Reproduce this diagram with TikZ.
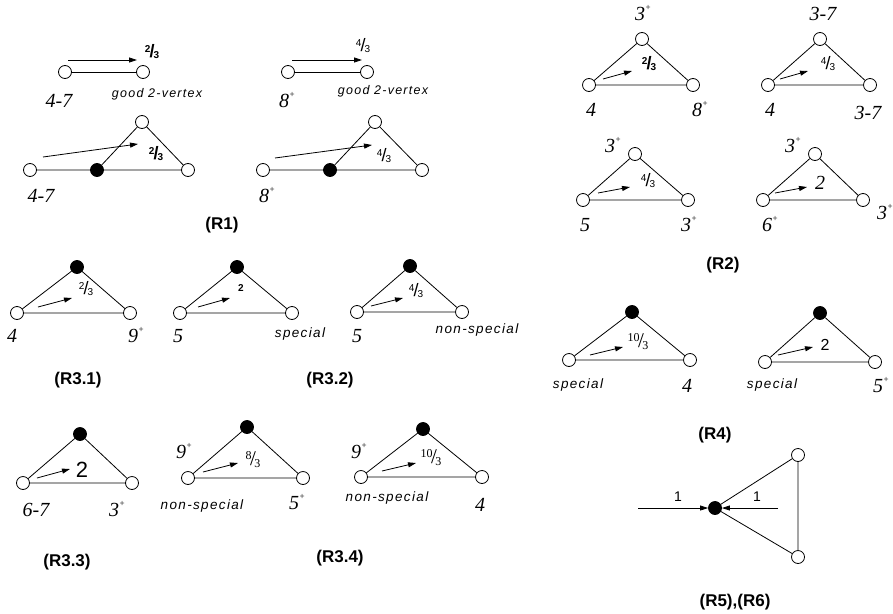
\documentclass[tikz,border=0pt]{standalone}
\usepackage{fontspec}
\setmainfont{Liberation Serif}
\setsansfont{Liberation Sans}
\newfontfamily\spacedsans[LetterSpace=10]{Liberation Sans}
\usetikzlibrary{arrows.meta}
\newcommand{\fz}[1]{\fontsize{#1}{#1}\selectfont}
% fraction: numerator raised, big slash, denominator lowered
\newcommand{\frc}[2]{\raisebox{5.5pt}{\fz{10}#1}\kern-1pt{\fz{18}/}\kern-1pt\raisebox{-1pt}{\fz{10}#2}}
\newcommand{\frcs}[2]{\raisebox{6pt}{\fz{12}#1}\kern-1.5pt{\fz{21}/}\kern-1.5pt\raisebox{-2pt}{\fz{12}#2}}
\newcommand{\pl}{\kern0.5pt\raisebox{10pt}{\fz{9}\upshape +}}
\begin{document}
\begin{tikzpicture}[x=1pt,y=-1pt,
  wv/.style={circle,draw,fill=white,minimum size=13pt,inner sep=0pt,line width=0.8pt},
  bv/.style={circle,draw,fill=black,minimum size=13pt,inner sep=0pt,line width=0.8pt},
  edge/.style={line width=0.8pt},
  arr/.style={line width=0.8pt,-{Triangle[length=8pt,width=5pt]}},
  deg/.style={font=\fz{20}\itshape,inner sep=0pt},
  note/.style={font=\fz{13.5}\spacedsans\itshape,inner sep=0pt},
  goodnote/.style={font=\fz{12.5}\spacedsans\itshape,inner sep=0pt},
  ttl/.style={font=\fz{17}\sffamily\bfseries,inner sep=0pt},
  fsb/.style={font=\sffamily\bfseries,inner sep=0pt},
  fs/.style={font=\sffamily,inner sep=0pt},
  fr/.style={font=\rmfamily,inner sep=0pt}]
\useasboundingbox (0,0) rectangle (893,613);

% ---------------- R1 ----------------
\node[wv] (a1) at (65,72) {};
\node[wv] (a2) at (143,72) {};
\draw[edge] (a1) -- (a2);
\draw[arr] (68,60) -- (137,60);
\node[fsb] (a3) at (152,52) {\frc{2}{3}};
\node[deg] (a4) at (59,101) {4-7};
\node[goodnote] (a5) at (157,94) {good 2-vertex};

\node[wv] (b1) at (288,72) {};
\node[wv] (b2) at (367,72) {};
\draw[edge] (b1) -- (b2);
\draw[arr] (292,60) -- (362,60);
\node[fs] (b3) at (363,46) {\frc{4}{3}};
\node[deg] (b4) at (287,100) {8\pl};
\node[goodnote] (b5) at (383,91) {good 2-vertex};

\node[wv] (c1) at (30,170) {};
\node[bv] (c2) at (97,170) {};
\node[wv] (c3) at (188,170) {};
\node[wv] (c4) at (142,122) {};
\draw[edge] (c1) -- (c2) -- (c3) -- (c4) -- (c2);
\draw[arr] (43,157) -- (138,144);
\node[fsb] (c5) at (156,154) {\frc{2}{3}};
\node[deg] (c6) at (41,196) {4-7};

\node[wv] (d1) at (263,170) {};
\node[bv] (d2) at (330,170) {};
\node[wv] (d3) at (422,170) {};
\node[wv] (d4) at (375,122) {};
\draw[edge] (d1) -- (d2) -- (d3) -- (d4) -- (d2);
\draw[arr] (275,158) -- (372,145);
\node[fs] (d5) at (384,156) {\frc{4}{3}};
\node[deg] (d6) at (267,195) {8\pl};

\node[ttl] (t1) at (222,225) {(R1)};

% ---------------- R3.1 ----------------
\node[bv] (e1) at (77,267) {};
\node[wv] (e2) at (17,313) {};
\node[wv] (e3) at (130,313) {};
\draw[edge] (e2) -- (e1) -- (e3) -- (e2);
\draw[arr] (38,307) -- (72,298);
\node[fs] (e4) at (86,289) {\frc{2}{3}};
\node[deg] (e5) at (12,336) {4};
\node[deg] (e6) at (136,335) {9\pl};
\node[ttl] (t31) at (78,380) {(R3.1)};

% ---------------- R3.2 ----------------
\node[bv] (f1) at (237,267) {};
\node[wv] (f2) at (180,313) {};
\node[wv] (f3) at (292,313) {};
\draw[edge] (f2) -- (f1) -- (f3) -- (f2);
\draw[arr] (198,307) -- (230,298);
\node[fsb,font=\fz{10}\sffamily\bfseries] (f4) at (241,288) {2};
\node[deg] (f5) at (178,336) {5};
\node[note] (f6) at (300,334) {special};

\node[bv] (g1) at (410,266) {};
\node[wv] (g2) at (357,312) {};
\node[wv] (g3) at (462,312) {};
\draw[edge] (g2) -- (g1) -- (g3) -- (g2);
\draw[arr] (371,306) -- (403,298);
\node[fs] (g4) at (416,291) {\frc{4}{3}};
\node[deg] (g5) at (357,336) {5};
\node[note] (g6) at (477,330) {non-special};
\node[ttl] (t32) at (330,380) {(R3.2)};

% ---------------- R3.3 ----------------
\node[bv] (h1) at (80,434) {};
\node[wv] (h2) at (23,483) {};
\node[wv] (h3) at (132,483) {};
\draw[edge] (h2) -- (h1) -- (h3) -- (h2);
\draw[arr] (37,478) -- (70,469);
\node[fs,font=\fz{22}\sffamily] (h4) at (82,470) {2};
\node[deg] (h5) at (36,510) {6-7};
\node[deg] (h6) at (117,509) {3\pl};
\node[ttl] (t33) at (67,562) {(R3.3)};

% ---------------- R3.4 ----------------
\node[bv] (i1) at (247,427) {};
\node[wv] (i2) at (188,478) {};
\node[wv] (i3) at (303,478) {};
\draw[edge] (i2) -- (i1) -- (i3) -- (i2);
\draw[arr] (203,472) -- (238,463);
\node[fr] (i4) at (253,460) {\frcs{8}{3}};
\node[deg] (i5) at (184,451) {9\pl};
\node[note] (i6) at (202,506) {non-special};
\node[deg] (i7) at (297,502) {5\pl};

\node[bv] (j1) at (423,429) {};
\node[wv] (j2) at (361,477) {};
\node[wv] (j3) at (482,477) {};
\draw[edge] (j2) -- (j1) -- (j3) -- (j2);
\draw[arr] (382,471) -- (416,463);
\node[fr] (j4) at (431,458) {\frcs{10}{3}};
\node[deg] (j5) at (359,451) {9\pl};
\node[note] (j6) at (387,498) {non-special};
\node[deg] (j7) at (480,505) {4};
\node[ttl] (t34) at (340,558) {(R3.4)};

% ---------------- R2 ----------------
\node[wv] (k1) at (642,39) {};
\node[wv] (k2) at (589,85) {};
\node[wv] (k3) at (693,85) {};
\draw[edge] (k2) -- (k1) -- (k3) -- (k2);
\draw[arr] (603,79) -- (632,71);
\node[fsb] (k4) at (649,64) {\frc{2}{3}};
\node[deg] (k5) at (643,13) {3\pl};
\node[deg] (k6) at (591,110) {4};
\node[deg] (k7) at (700,109) {8\pl};

\node[wv] (l1) at (820,39) {};
\node[wv] (l2) at (768,85) {};
\node[wv] (l3) at (870,85) {};
\draw[edge] (l2) -- (l1) -- (l3) -- (l2);
\draw[arr] (780,79) -- (808,71);
\node[fs] (l4) at (828,64) {\frc{4}{3}};
\node[deg] (l5) at (823,14) {3-7};
\node[deg] (l6) at (770,110) {4};
\node[deg] (l7) at (868,113) {3-7};

\node[wv] (m1) at (635,154) {};
\node[wv] (m2) at (583,200) {};
\node[wv] (m3) at (688,200) {};
\draw[edge] (m2) -- (m1) -- (m3) -- (m2);
\draw[arr] (598,193) -- (630,187);
\node[fs] (m4) at (648,181) {\frc{4}{3}};
\node[deg] (m5) at (613,145) {3\pl};
\node[deg] (m6) at (585,225) {5};
\node[deg] (m7) at (689,224) {3\pl};

\node[wv] (n1) at (815,154) {};
\node[wv] (n2) at (763,200) {};
\node[wv] (n3) at (863,200) {};
\draw[edge] (n2) -- (n1) -- (n3) -- (n2);
\draw[arr] (775,193) -- (807,187);
\node[deg] (n4) at (820,183) {2};
\node[deg] (n5) at (793,145) {3\pl};
\node[deg] (n6) at (770,224) {6\pl};
\node[deg] (n7) at (885,212) {3\pl};
\node[ttl] (t2) at (723,265) {(R2)};

% ---------------- R4 ----------------
\node[bv] (o1) at (632,312) {};
\node[wv] (o2) at (569,360) {};
\node[wv] (o3) at (690,360) {};
\draw[edge] (o2) -- (o1) -- (o3) -- (o2);
\draw[arr] (590,355) -- (623,347);
\node[fr] (o4) at (638,342) {\frcs{10}{3}};
\node[note] (o5) at (578,385) {special};
\node[deg] (o6) at (687,386) {4};

\node[bv] (p1) at (820,313) {};
\node[wv] (p2) at (765,362) {};
\node[wv] (p3) at (875,362) {};
\draw[edge] (p2) -- (p1) -- (p3) -- (p2);
\draw[arr] (778,355) -- (813,347);
\node[fs,font=\fz{16}\sffamily] (p4) at (825,345) {2};
\node[note] (p5) at (772,385) {special};
\node[deg] (p6) at (881,385) {5\pl};
\node[ttl] (t4) at (715,435) {(R4)};

% ---------------- R5, R6 ----------------
\node[bv] (q1) at (715,508) {};
\node[wv] (q2) at (798,455) {};
\node[wv] (q3) at (798,557) {};
\draw[edge] (q2) -- (q1) -- (q3) -- (q2);
\coordinate (q4) at (638,508);
\coordinate (q5) at (778,508);
\draw[arr] (q4) -- (q1);
\draw[arr] (q5) -- (q1);
\node[fs,font=\fz{14}\sffamily] (q6) at (678,497) {1};
\node[fs,font=\fz{14}\sffamily] (q7) at (757,497) {1};
\node[ttl] (t5) at (735,602) {(R5),(R6)};
\end{tikzpicture}
\end{document}
